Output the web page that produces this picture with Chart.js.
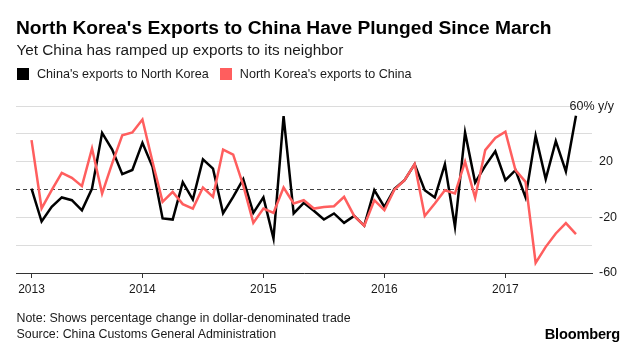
<!DOCTYPE html>
<html>
<head>
<meta charset="utf-8">
<script src="https://cdn.jsdelivr.net/npm/chart.js@4.4.1/dist/chart.umd.min.js"></script>
<style>
  html, body { margin:0; padding:0; background:#fff; }
  body { width:640px; height:352px; position:relative; overflow:hidden;
         font-family:"Liberation Sans", Arial, Helvetica, sans-serif; color:#111; }
  #wrap { position:absolute; left:0; top:0; width:640px; height:352px; }
  .t { position:absolute; white-space:nowrap; }
  #title { left:16px; top:17.6px; font-size:19.2px; line-height:19.2px; font-weight:bold; color:#000; }
  #sub { left:16.5px; top:42px; font-size:15.3px; line-height:15.3px; color:#1a1a1a; }
  #legend { left:17px; top:67.7px; font-size:12.6px; line-height:12.6px; color:#1a1a1a; }
  #legend span.sw { display:inline-block; width:12px; height:12px; vertical-align:top; margin-right:8px; }
  #legend span.item { margin-right:11px; }
  #note { left:16.5px; top:312px; font-size:12.4px; line-height:12.4px; color:#1a1a1a; }
  #source { left:16.5px; top:328px; font-size:12.4px; line-height:12.4px; color:#1a1a1a; }
  #brand { right:20px; top:327px; font-size:14.6px; line-height:14.6px; font-weight:bold; color:#000; letter-spacing:-0.2px; }
</style>
</head>
<body>
<div id="wrap"><canvas id="c" width="640" height="352"></canvas></div>
<div class="t" id="title">North Korea's Exports to China Have Plunged Since March</div>
<div class="t" id="sub">Yet China has ramped up exports to its neighbor</div>
<div class="t" id="legend"></div>
<div class="t" id="note">Note: Shows percentage change in dollar-denominated trade</div>
<div class="t" id="source">Source: China Customs General Administration</div>
<div class="t" id="brand">Bloomberg</div>
<script>
// ---- data (year-over-year % change, monthly) ----
const months = [
  '2013-02','2013-03','2013-04','2013-05','2013-06','2013-07','2013-08','2013-09','2013-10','2013-11','2013-12',
  '2014-01','2014-02','2014-03','2014-04','2014-05','2014-06','2014-07','2014-08','2014-09','2014-10','2014-11','2014-12',
  '2015-01','2015-02','2015-03','2015-04','2015-05','2015-06','2015-07','2015-08','2015-09','2015-10','2015-11','2015-12',
  '2016-01','2016-02','2016-03','2016-04','2016-05','2016-06','2016-07','2016-08','2016-09','2016-10','2016-11','2016-12',
  '2017-01','2017-02','2017-03','2017-04','2017-05','2017-06','2017-07','2017-08'
];
const chinaToNK = [
  0.7, -23, -12.5, -5.7, -7.7, -15, 0.7, 40.7, 28.7, 11, 14,
  33.5, 16.3, -20.8, -21.6, 5.3, -7.2, 21.6, 15, -17, -5.3, 7.5, -16.8,
  -5.7, -35.2, 52.7, -17.2, -9.6, -15.3, -21.6, -17.2, -24, -19, -26, -0.5,
  -12.5, 0.5, 6.7, 18.2, -0.5, -5.7, 18.2, -26.8, 41, 5, 17, 27.5,
  6.7, 13.9, -5.7, 38.7, 7.5, 34.7, 13, 53
];
const nkToChina = [
  35.5, -13.6, -0.5, 12, 8.4, 2.4, 29.5, -2.9, 18.7, 39, 41,
  50.3, 20, -8.9, -1.7, -10.5, -13.7, 1.4, -5.3, 28.7, 25, 3, -24,
  -13.7, -16.8, 1.4, -10, -7.7, -13.7, -12.5, -12, -5.3, -19, -26, -7.7,
  -14.8, 0, 6.7, 18.2, -19, -10, -0.5, -2.9, 20, -6, 28.3, 37,
  41.5, 13.9, 5.5, -52.7, -41.2, -31.6, -24.2, -32
];
const seriesNames = ["China's exports to North Korea", "North Korea's exports to China"];
const yearLabels = ['2013','2014','2015','2016','2017'];
const yearTickMonths = ['2013-02','2014-01','2015-01','2016-01','2017-01'];
const yTickLabels = [20, -20, -60];
const topTickLabel = '60% y/y';

// ---- styles ----
const BLACK = '#000000';
const RED = '#ff5e5e';
const FONT = '"Liberation Sans", Arial, Helvetica, sans-serif';

// legend (HTML)
const legendEl = document.getElementById('legend');
[[seriesNames[0], BLACK], [seriesNames[1], RED]].forEach(([name, col]) => {
  const it = document.createElement('span'); it.className = 'item';
  const sw = document.createElement('span'); sw.className = 'sw'; sw.style.background = col;
  it.appendChild(sw); it.appendChild(document.createTextNode(name));
  legendEl.appendChild(it);
});

const yearTickIdx = yearTickMonths.map(m => months.indexOf(m));
const toPts = arr => arr.map((v, i) => ({ x: i, y: v }));

const topLabelPlugin = {
  id: 'topLabel',
  afterDraw(chart) {
    const ys = chart.scales.y, ca = chart.chartArea, ctx = chart.ctx;
    ctx.save();
    ctx.font = '12.5px ' + FONT;
    ctx.fillStyle = '#1a1a1a';
    ctx.textAlign = 'right';
    ctx.textBaseline = 'middle';
    ctx.fillText(topTickLabel, ca.right + 22, ys.getPixelForValue(60) + 1);
    ctx.restore();
  }
};

new Chart(document.getElementById('c'), {
  type: 'line',
  data: {
    datasets: [
      { label: seriesNames[1], data: toPts(nkToChina), borderColor: RED, backgroundColor: RED,
        borderWidth: 2.5, pointRadius: 0, tension: 0, order: 0 },
      { label: seriesNames[0], data: toPts(chinaToNK), borderColor: BLACK, backgroundColor: BLACK,
        borderWidth: 2.5, pointRadius: 0, tension: 0, order: 1 }
    ]
  },
  options: {
    responsive: false,
    animation: false,
    layout: { padding: { left: 16, right: 0, top: 106, bottom: 49 } },
    plugins: { legend: { display: false }, tooltip: { enabled: false }, title: { display: false } },
    scales: {
      x: {
        type: 'linear',
        min: -1.54, max: 55.59,
        afterBuildTicks: s => { s.ticks = yearTickIdx.map(v => ({ value: v })); },
        afterFit: s => { s.height = 30; },
        ticks: {
          autoSkip: false, maxRotation: 0, padding: 4, color: '#1a1a1a',
          font: { family: FONT, size: 12 },
          callback: v => { const k = yearTickIdx.indexOf(v); return k >= 0 ? yearLabels[k] : ''; }
        },
        grid: { drawOnChartArea: false, drawTicks: true, tickLength: 5, color: '#333', lineWidth: 1 },
        border: { display: true, color: '#333', width: 1 }
      },
      y: {
        position: 'right',
        min: -60, max: 60,
        afterFit: s => { s.width = 48; },
        ticks: {
          stepSize: 20, autoSkip: false, padding: 7, color: '#1a1a1a',
          font: { family: FONT, size: 12.5 },
          callback: v => yTickLabels.includes(v) ? String(v) : ''
        },
        grid: {
          drawTicks: false, lineWidth: 1,
          color: c => (c.tick && c.tick.value === 0) ? '#444' : '#dcdcdc'
        },
        border: { display: false, dash: c => (c.tick && c.tick.value === 0) ? [4, 3] : [] }
      }
    }
  },
  plugins: [topLabelPlugin]
});
</script>
</body>
</html>
